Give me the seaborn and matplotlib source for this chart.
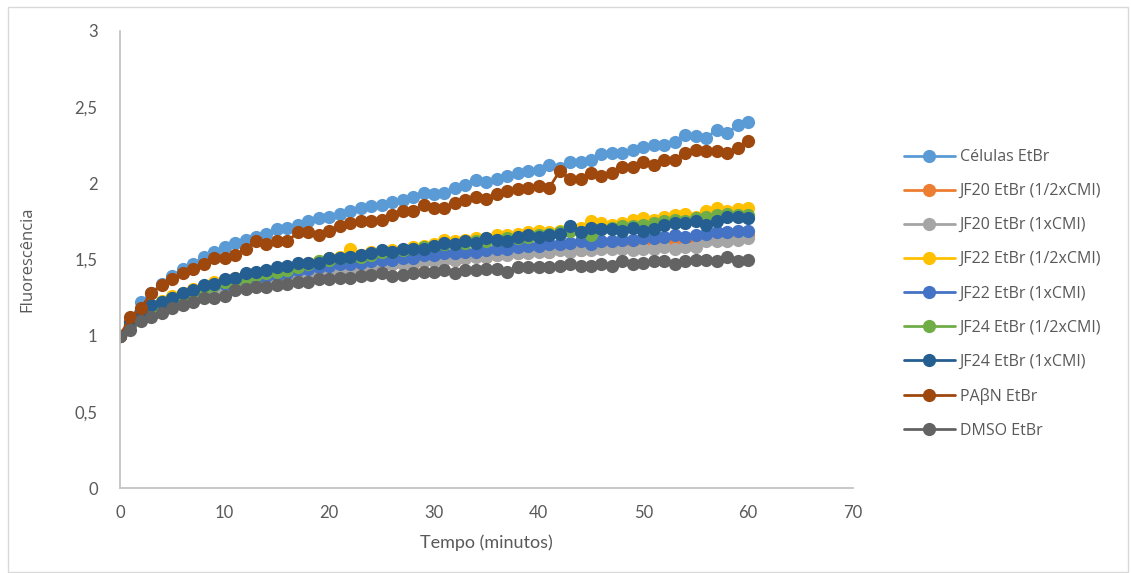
import pandas as pd
import seaborn as sns
import matplotlib.pyplot as plt
from matplotlib.patches import Rectangle

tempo = list(range(61))

celulas = [1.00, 1.10, 1.22, 1.28, 1.34, 1.39, 1.44, 1.47, 1.52, 1.55, 1.58, 1.61, 1.63, 1.65, 1.67, 1.70,
           1.71, 1.73, 1.75, 1.77, 1.78, 1.80, 1.82, 1.84, 1.85, 1.86, 1.88, 1.89, 1.91, 1.94, 1.93, 1.94,
           1.97, 1.99, 2.02, 2.01, 2.03, 2.05, 2.07, 2.08, 2.09, 2.12, 2.10, 2.14, 2.14, 2.15, 2.19, 2.20,
           2.20, 2.22, 2.24, 2.25, 2.25, 2.27, 2.32, 2.31, 2.30, 2.35, 2.33, 2.38, 2.40]
jf20_meio = [1.00, 1.07, 1.15, 1.18, 1.21, 1.23, 1.25, 1.27, 1.29, 1.31, 1.32, 1.33, 1.34, 1.36, 1.37, 1.37,
             1.38, 1.40, 1.41, 1.41, 1.42, 1.43, 1.44, 1.43, 1.45, 1.46, 1.47, 1.48, 1.47, 1.49, 1.50, 1.51,
             1.50, 1.51, 1.53, 1.52, 1.53, 1.54, 1.54, 1.55, 1.56, 1.55, 1.57, 1.57, 1.56, 1.57, 1.59, 1.60,
             1.59, 1.61, 1.60, 1.62, 1.61, 1.62, 1.63, 1.64, 1.65, 1.65, 1.66, 1.66, 1.66]
jf20_um = [1.00, 1.07, 1.14, 1.17, 1.20, 1.23, 1.25, 1.27, 1.29, 1.30, 1.31, 1.33, 1.34, 1.35, 1.36, 1.37,
           1.38, 1.39, 1.40, 1.41, 1.42, 1.43, 1.43, 1.44, 1.45, 1.46, 1.47, 1.47, 1.48, 1.49, 1.49, 1.50,
           1.50, 1.51, 1.52, 1.52, 1.53, 1.53, 1.54, 1.54, 1.55, 1.55, 1.56, 1.55, 1.56, 1.56, 1.57, 1.57,
           1.57, 1.56, 1.57, 1.57, 1.58, 1.57, 1.58, 1.58, 1.62, 1.62, 1.62, 1.63, 1.64]
jf22_meio = [1.00, 1.10, 1.17, 1.20, 1.23, 1.26, 1.28, 1.31, 1.32, 1.35, 1.36, 1.38, 1.40, 1.41, 1.42, 1.44,
             1.45, 1.47, 1.48, 1.49, 1.51, 1.52, 1.57, 1.53, 1.55, 1.55, 1.56, 1.56, 1.58, 1.59, 1.60, 1.63,
             1.62, 1.63, 1.64, 1.64, 1.66, 1.66, 1.67, 1.68, 1.69, 1.68, 1.69, 1.71, 1.71, 1.75, 1.74, 1.73,
             1.74, 1.76, 1.77, 1.76, 1.78, 1.79, 1.80, 1.78, 1.82, 1.84, 1.82, 1.83, 1.84]
jf22_um = [1.00, 1.08, 1.16, 1.19, 1.21, 1.24, 1.26, 1.29, 1.31, 1.33, 1.34, 1.36, 1.37, 1.38, 1.39, 1.40,
           1.41, 1.43, 1.44, 1.45, 1.46, 1.47, 1.47, 1.48, 1.49, 1.50, 1.50, 1.51, 1.51, 1.53, 1.53, 1.54,
           1.54, 1.55, 1.55, 1.56, 1.57, 1.57, 1.58, 1.59, 1.59, 1.60, 1.60, 1.61, 1.62, 1.60, 1.62, 1.62,
           1.63, 1.63, 1.64, 1.64, 1.65, 1.66, 1.65, 1.66, 1.67, 1.68, 1.68, 1.69, 1.69]
jf24_meio = [1.00, 1.08, 1.15, 1.19, 1.22, 1.25, 1.27, 1.29, 1.31, 1.33, 1.35, 1.36, 1.38, 1.40, 1.41, 1.42,
             1.43, 1.45, 1.47, 1.49, 1.50, 1.51, 1.52, 1.52, 1.53, 1.55, 1.55, 1.56, 1.57, 1.58, 1.59, 1.60,
             1.60, 1.61, 1.62, 1.62, 1.63, 1.64, 1.64, 1.65, 1.66, 1.67, 1.68, 1.69, 1.68, 1.66, 1.70, 1.71,
             1.72, 1.72, 1.73, 1.74, 1.75, 1.76, 1.75, 1.77, 1.78, 1.79, 1.80, 1.79, 1.79]
jf24_um = [1.00, 1.09, 1.16, 1.20, 1.22, 1.25, 1.28, 1.30, 1.33, 1.34, 1.37, 1.38, 1.41, 1.42, 1.43, 1.45,
           1.46, 1.48, 1.48, 1.48, 1.51, 1.51, 1.52, 1.53, 1.54, 1.56, 1.55, 1.57, 1.57, 1.57, 1.59, 1.61,
           1.60, 1.62, 1.61, 1.64, 1.63, 1.62, 1.65, 1.66, 1.65, 1.66, 1.67, 1.72, 1.68, 1.71, 1.70, 1.70,
           1.69, 1.71, 1.69, 1.70, 1.73, 1.74, 1.74, 1.75, 1.73, 1.75, 1.78, 1.78, 1.77]
pabn = [1.00, 1.12, 1.18, 1.28, 1.33, 1.37, 1.41, 1.44, 1.47, 1.51, 1.51, 1.53, 1.57, 1.62, 1.60, 1.62,
        1.62, 1.68, 1.68, 1.66, 1.69, 1.72, 1.74, 1.75, 1.75, 1.76, 1.79, 1.82, 1.82, 1.86, 1.84, 1.84,
        1.87, 1.89, 1.91, 1.90, 1.93, 1.95, 1.96, 1.97, 1.98, 1.97, 2.08, 2.03, 2.03, 2.07, 2.05, 2.07,
        2.11, 2.11, 2.14, 2.12, 2.15, 2.15, 2.20, 2.22, 2.21, 2.21, 2.20, 2.23, 2.28]
dmso = [1.00, 1.04, 1.10, 1.12, 1.15, 1.18, 1.20, 1.22, 1.25, 1.25, 1.26, 1.30, 1.31, 1.32, 1.32, 1.33,
        1.34, 1.35, 1.35, 1.37, 1.37, 1.38, 1.38, 1.39, 1.40, 1.41, 1.39, 1.40, 1.41, 1.42, 1.42, 1.43,
        1.41, 1.43, 1.43, 1.44, 1.44, 1.42, 1.45, 1.45, 1.45, 1.45, 1.46, 1.47, 1.46, 1.46, 1.47, 1.46,
        1.49, 1.47, 1.48, 1.49, 1.49, 1.47, 1.49, 1.50, 1.50, 1.49, 1.52, 1.49, 1.50]

series = ["Células EtBr", "JF20 EtBr (1/2xCMI)", "JF20 EtBr (1xCMI)", "JF22 EtBr (1/2xCMI)",
          "JF22 EtBr (1xCMI)", "JF24 EtBr (1/2xCMI)", "JF24 EtBr (1xCMI)", "PAβN EtBr", "DMSO EtBr"]
valores = [celulas, jf20_meio, jf20_um, jf22_meio, jf22_um, jf24_meio, jf24_um, pabn, dmso]
cores = ["#5B9BD5", "#ED7D31", "#A5A5A5", "#FFC000", "#4472C4", "#70AD47", "#255E91", "#9E480E", "#636363"]

xticks = [0, 10, 20, 30, 40, 50, 60, 70]
yticks = [0, 0.5, 1, 1.5, 2, 2.5, 3]
ytick_labels = ["0", "0,5", "1", "1,5", "2", "2,5", "3"]

rows = []
for nome, vals in zip(series, valores):
    for t, v in zip(tempo, vals):
        rows.append({"Tempo": t, "Fluorescencia": v, "Serie": nome})
df = pd.DataFrame(rows)

sns.set_style("white")
plt.rcParams["font.family"] = ["Open Sans", "DejaVu Sans"]

fig = plt.figure(figsize=(11.31, 5.73), dpi=100)
ax = fig.add_axes([0.106, 0.148, 0.648, 0.798])

sns.lineplot(data=df, x="Tempo", y="Fluorescencia", hue="Serie", hue_order=series,
             palette=dict(zip(series, cores)), marker="o", markersize=9.5,
             markeredgewidth=0, linewidth=2, ax=ax)

ax.set_xlim(0, 70)
ax.set_ylim(0, 3)
ax.set_xticks(xticks)
ax.set_yticks(yticks)
ax.set_yticklabels(ytick_labels)
ax.tick_params(axis="x", length=0, labelsize=12, colors="#595959", pad=12)
ax.tick_params(axis="y", length=0, labelsize=12, colors="#595959", pad=16)
for lab in ax.get_xticklabels() + ax.get_yticklabels():
    lab.set_family("Lato")
ax.set_xlabel("Tempo (minutos)", fontsize=13, color="#595959", family="Lato", labelpad=10)
ax.set_ylabel("Fluorescência", fontsize=12, color="#595959")
ax.yaxis.set_label_coords(-0.115, 0.5)

sns.despine(ax=ax)
for s in ["left", "bottom"]:
    ax.spines[s].set_color("#BFBFBF")
    ax.spines[s].set_linewidth(1.2)

leg = ax.legend(loc="center left", bbox_to_anchor=(1.05, 0.425), frameon=False,
                fontsize=11.5, labelspacing=1.13, handlelength=3.2, handletextpad=0.3)
for txt in leg.get_texts():
    txt.set_color("#595959")

fig.patches.append(Rectangle((0.007, 0.002), 0.99, 0.985, transform=fig.transFigure,
                             fill=False, edgecolor="#D9D9D9", linewidth=1))

fig.savefig("out.png", dpi=100)
